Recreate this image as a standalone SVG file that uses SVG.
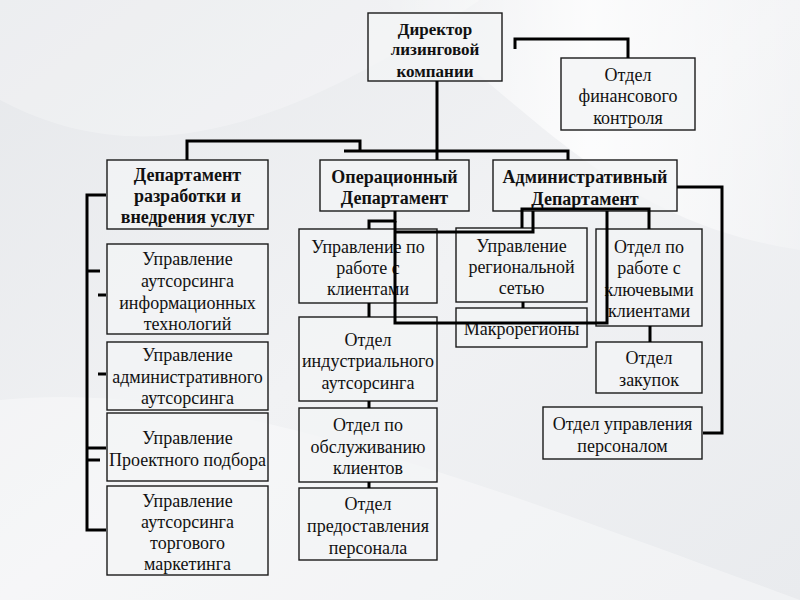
<svg xmlns="http://www.w3.org/2000/svg" width="800" height="600" viewBox="0 0 800 600">
<defs>
<linearGradient id="bg" x1="0" y1="0" x2="1" y2="1">
<stop offset="0" stop-color="#e6e8eb"/>
<stop offset="0.5" stop-color="#f1f2f4"/>
<stop offset="1" stop-color="#e9ebee"/>
</linearGradient>
<linearGradient id="sw" x1="0" y1="0" x2="1" y2="0">
<stop offset="0" stop-color="#ffffff" stop-opacity="0"/>
<stop offset="0.5" stop-color="#ffffff" stop-opacity="0.8"/>
<stop offset="1" stop-color="#ffffff" stop-opacity="0.2"/>
</linearGradient>
<style>
.box{fill:#f3f4f6;fill-opacity:0.75;stroke:#1a1a1a;stroke-width:1.4}
.c{fill:none;stroke:#000;stroke-width:3;stroke-linejoin:miter}
text{font-family:"Liberation Serif","Times New Roman",serif;font-size:18px;fill:#111;text-anchor:middle}
.b{font-weight:bold;font-size:18px}
.d{font-weight:bold;font-size:17px}
</style>
</defs>
<rect width="800" height="600" fill="url(#bg)"/>
<path d="M380,0 C520,90 600,220 800,250 L800,0 Z" fill="url(#sw)"/>
<path d="M0,400 C200,380 420,460 800,600 L0,600 Z" fill="#ffffff" fill-opacity="0.35"/>
<path d="M0,100 C150,180 300,120 480,0 L0,0 Z" fill="#ffffff" fill-opacity="0.25"/>

<g id="director">
<rect class="box" x="368" y="13" width="134" height="68"/>
<text class="d" x="435" y="35">Директор</text>
<text class="d" x="435" y="55">лизинговой</text>
<text class="d" x="435" y="77">компании</text>
</g>
<g id="finance">
<rect class="box" x="561" y="58" width="134" height="72"/>
<text x="628" y="81">Отдел</text>
<text x="628" y="102">финансового</text>
<text x="628" y="124">контроля</text>
</g>
<g id="dept-dev">
<rect class="box" x="107" y="160" width="161" height="69"/>
<text class="b" x="187.5" y="181">Департамент</text>
<text class="b" x="187.5" y="202">разработки и</text>
<text class="b" x="187.5" y="223">внедрения услуг</text>
</g>
<g id="dept-op">
<rect class="box" x="320" y="160" width="149" height="51"/>
<text class="b" x="394.5" y="183">Операционный</text>
<text class="b" x="394.5" y="204">Департамент</text>
</g>
<g id="dept-admin">
<rect class="box" x="493" y="160" width="184" height="51"/>
<text class="b" x="585" y="183">Административный</text>
<text class="b" x="585" y="205">Департамент</text>
</g>
<g id="it-outsourcing">
<rect class="box" x="107" y="244" width="161" height="90"/>
<text x="187.5" y="265">Управление</text>
<text x="187.5" y="287">аутсорсинга</text>
<text x="187.5" y="309">информационных</text>
<text x="187.5" y="330">технологий</text>
</g>
<g id="admin-outsourcing">
<rect class="box" x="107" y="342" width="161" height="68"/>
<text x="187.5" y="361">Управление</text>
<text x="187.5" y="383">административного</text>
<text x="187.5" y="404">аутсорсинга</text>
</g>
<g id="project-selection">
<rect class="box" x="107" y="413" width="161" height="68"/>
<text x="187.5" y="444">Управление</text>
<text x="187.5" y="466">Проектного подбора</text>
</g>
<g id="trade-marketing">
<rect class="box" x="107" y="486" width="161" height="89"/>
<text x="187.5" y="507">Управление</text>
<text x="187.5" y="528">аутсорсинга</text>
<text x="187.5" y="549">торгового</text>
<text x="187.5" y="570">маркетинга</text>
</g>
<g id="clients">
<rect class="box" x="299" y="229" width="138" height="74"/>
<text x="368" y="253">Управление по</text>
<text x="368" y="274">работе с</text>
<text x="368" y="295">клиентами</text>
</g>
<g id="industrial">
<rect class="box" x="299" y="317" width="138" height="84"/>
<text x="368" y="346">Отдел</text>
<text x="368" y="367">индустриального</text>
<text x="368" y="389">аутсорсинга</text>
</g>
<g id="client-service">
<rect class="box" x="299" y="408" width="138" height="74"/>
<text x="368" y="431">Отдел по</text>
<text x="368" y="453">обслуживанию</text>
<text x="368" y="474">клиентов</text>
</g>
<g id="personnel-provision">
<rect class="box" x="299" y="488" width="138" height="72"/>
<text x="368" y="510">Отдел</text>
<text x="368" y="532">предоставления</text>
<text x="368" y="554">персонала</text>
</g>
<g id="regional">
<rect class="box" x="456" y="228" width="131" height="74"/>
<text x="521.5" y="252">Управление</text>
<text x="521.5" y="273">региональной</text>
<text x="521.5" y="294">сетью</text>
</g>
<g id="macroregions">
<rect class="box" x="456" y="308" width="131" height="39"/>
<text x="521.5" y="335">Макрорегионы</text>
</g>
<g id="key-clients">
<rect class="box" x="596" y="229" width="106" height="97"/>
<text x="649" y="253">Отдел по</text>
<text x="649" y="274">работе с</text>
<text x="649" y="296">ключевыми</text>
<text x="649" y="317">клиентами</text>
</g>
<g id="purchasing">
<rect class="box" x="596" y="342" width="106" height="51"/>
<text x="649" y="364">Отдел</text>
<text x="649" y="386">закупок</text>
</g>
<g id="hr">
<rect class="box" x="543" y="407" width="159" height="52"/>
<text x="622.5" y="430">Отдел управления</text>
<text x="622.5" y="452">персоналом</text>
</g>

<g id="connectors">
<path class="c" d="M515,49 V39 H628 V58"/>
<path class="c" d="M437,81 V160"/>
<path class="c" d="M187,160 V141 H360 V151"/>
<path class="c" d="M344,151 H568 V160"/>
<path class="c" d="M395,211 V221 H369 V229"/>
<path class="c" d="M395,221 V323 H607 V211"/>
<path class="c" d="M522,228 V209 H649 V229"/>
<path class="c" d="M533,211 V232 H395"/>
<path class="c" d="M523,302 V308"/>
<path class="c" d="M650,326 V342"/>
<path class="c" d="M677,187 H722 V433 H703"/>
<path class="c" d="M369,303 V317"/>
<path class="c" d="M369,401 V408"/>
<path class="c" d="M369,482 V488"/>
<path class="c" d="M106,195 H87 V530 H106"/>
<path class="c" d="M87,271 H100"/>
<path class="c" d="M98,295 H106"/>
<path class="c" d="M98,374 H106"/>
<path class="c" d="M87,448 H106"/>
<path class="c" d="M87,460 H100"/>
</g>
</svg>
